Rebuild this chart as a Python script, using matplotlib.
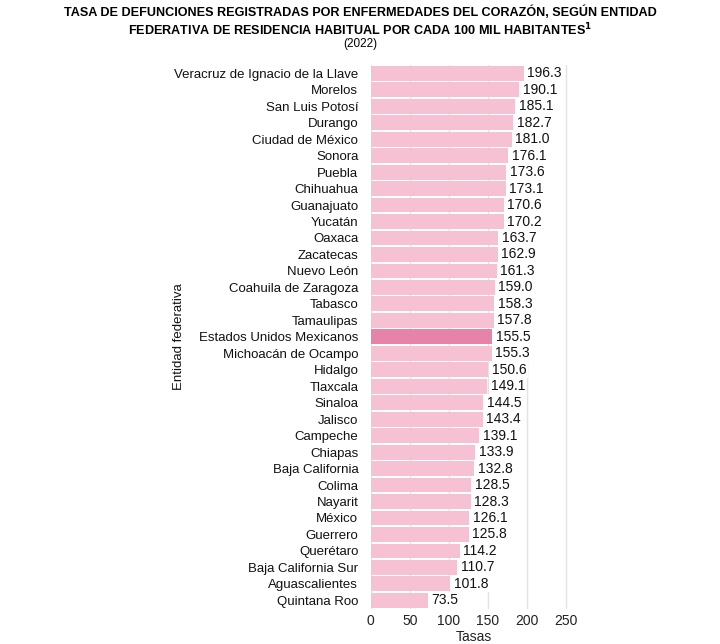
import matplotlib
matplotlib.use("Agg")
import matplotlib.pyplot as plt

estados = ["Veracruz de Ignacio de la Llave", "Morelos", "San Luis Potosí", "Durango",
           "Ciudad de México", "Sonora", "Puebla", "Chihuahua", "Guanajuato", "Yucatán",
           "Oaxaca", "Zacatecas", "Nuevo León", "Coahuila de Zaragoza", "Tabasco",
           "Tamaulipas", "Estados Unidos Mexicanos", "Michoacán de Ocampo", "Hidalgo",
           "Tlaxcala", "Sinaloa", "Jalisco", "Campeche", "Chiapas", "Baja California",
           "Colima", "Nayarit", "México", "Guerrero", "Querétaro", "Baja California Sur",
           "Aguascalientes", "Quintana Roo"]
tasas = [196.3, 190.1, 185.1, 182.7, 181.0, 176.1, 173.6, 173.1, 170.6, 170.2,
         163.7, 162.9, 161.3, 159.0, 158.3, 157.8, 155.5, 155.3, 150.6, 149.1,
         144.5, 143.4, 139.1, 133.9, 132.8, 128.5, 128.3, 126.1, 125.8, 114.2,
         110.7, 101.8, 73.5]
xticks = [0, 50, 100, 150, 200, 250]
destacado = "Estados Unidos Mexicanos"

plt.rcParams['font.family'] = ['Liberation Sans', 'DejaVu Sans']

fig = plt.figure(figsize=(7.2, 6.44), dpi=100)
ax = fig.add_axes([0.515, 0.055, 0.287, 0.844])

ypos = list(range(len(estados)))
colors = ["#E584A8" if e == destacado else "#F5C1D3" for e in estados]
ax.barh(ypos, tasas, height=0.9, color=colors, zorder=2)
for y, v in zip(ypos, tasas):
    ax.text(v + 4.5, y, f"{v:.1f}", va="center", ha="left", fontsize=10, color="#111111",
            zorder=4, bbox=dict(facecolor="white", edgecolor="none", pad=1.0))

ax.set_ylim(len(estados) - 0.5, -0.5)
ax.set_xlim(0, 265)
ax.set_xticks(xticks)
ax.set_xticklabels([str(t) for t in xticks], fontsize=10, color="#222222")
ax.set_yticks(ypos)
ax.set_yticklabels(estados, fontsize=9.5, color="#111111")
ax.tick_params(axis="x", length=0, pad=4)
ax.tick_params(axis="y", length=0, pad=9)
ax.grid(axis="x", color="#E3E3E3", linewidth=1, zorder=0)
for s in ax.spines.values():
    s.set_visible(False)
ax.set_xlabel("Tasas", fontsize=10, labelpad=1, color="#222222")
ax.set_ylabel("Entidad federativa", fontsize=9.5, color="#111111")
ax.yaxis.set_label_coords(-0.90, 0.5)

fig.text(0.5, 0.981, "TASA DE DEFUNCIONES REGISTRADAS POR ENFERMEDADES DEL CORAZÓN, SEGÚN ENTIDAD",
         ha="center", va="center", fontsize=9.1, fontweight="bold")
fig.text(0.5, 0.953, "FEDERATIVA DE RESIDENCIA HABITUAL POR CADA 100 MIL HABITANTES$^{\\mathbf{1}}$",
         ha="center", va="center", fontsize=9.1, fontweight="bold")
fig.text(0.5, 0.932, "(2022)", ha="center", va="center", fontsize=8.5)

fig.savefig("out.png", dpi=100, facecolor="white")
